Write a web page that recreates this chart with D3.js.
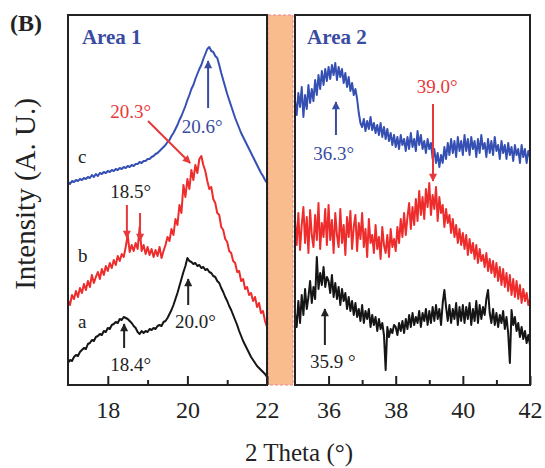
<!DOCTYPE html>
<html>
<head>
<meta charset="utf-8">
<script src="https://cdn.jsdelivr.net/npm/d3@7"></script>
<style>
  body { margin: 0; background: #fff; }
  svg { display: block; font-family: "Liberation Serif", "Times New Roman", serif; }
</style>
</head>
<body>
<svg width="545" height="468"></svg>
<script>
// sampling of the 2 theta scans (degrees)
var area1Start = 17
var area2Start = 35
var step = 0.05

// Area 1, 17.00 .. 22.00, one row per degree
var area1A = [
  22, 25, 24, 28, 30, 29, 33, 35, 37, 36, 41, 42, 45, 44, 48, 49, 51, 50, 54, 53,
  57, 56, 60, 61, 63, 62, 66, 65, 68, 67, 66, 64, 62, 59, 57, 53, 51, 54, 52, 54,
  53, 56, 55, 57, 56, 59, 60, 59, 63, 64, 67, 71, 75, 80, 86, 92, 99, 106, 113, 119,
  127, 124, 123, 121, 122, 119, 120, 117, 118, 115, 116, 113, 112, 109, 108, 104, 102, 97, 93, 88,
  84, 79, 75, 70, 65, 60, 54, 49, 44, 40, 36, 32, 28, 25, 22, 19, 17, 15, 13, 11,
  8
]
var area1B = [
  85, 80, 90, 86, 94, 88, 97, 92, 101, 95, 104, 98, 110, 102, 108, 113, 106, 116, 110, 119,
  114, 122, 117, 125, 120, 129, 124, 131, 128, 138, 150, 133, 140, 134, 142, 136, 158, 134, 140, 131,
  138, 130, 136, 128, 135, 129, 138, 127, 134, 140, 148, 144, 156, 150, 166, 160, 180, 172, 200, 188,
  206, 196, 215, 205, 220, 212, 226, 229, 220, 214, 204, 196, 198, 186, 182, 172, 170, 158, 155, 146,
  143, 134, 132, 124, 122, 113, 114, 104, 106, 96, 98, 90, 92, 84, 88, 78, 82, 72, 74, 64,
  58
]
var area1C = [
  203, 201, 204, 203, 205, 204, 206, 205, 207, 206, 208, 207, 210, 208, 211, 209, 212, 211, 213, 212,
  214, 213, 215, 214, 216, 215, 217, 216, 218, 217, 219, 218, 220, 219, 221, 221, 223, 222, 224, 224,
  226, 226, 228, 229, 231, 232, 234, 236, 238, 240, 243, 245, 249, 252, 256, 260, 265, 269, 274, 279,
  285, 290, 296, 300, 306, 311, 316, 320, 326, 331, 336, 338, 334, 333, 329, 327, 320, 312, 305, 298,
  291, 285, 279, 273, 267, 262, 257, 252, 248, 244, 240, 236, 232, 228, 224, 220, 216, 212, 209, 205,
  202
]

// Area 2, 35.00 .. 42.00
var area2A = [
  72, 58, 84, 62, 90, 70, 96, 76, 88, 104, 82, 98, 86, 128, 96, 112, 100, 118, 98, 108,
  104, 92, 110, 88, 102, 86, 98, 80, 96, 84, 92, 76, 88, 74, 84, 70, 82, 68, 76, 64,
  80, 62, 74, 66, 76, 58, 70, 60, 68, 54, 66, 56, 62, 50, 15, 58, 48, 56, 52, 60,
  58, 50, 62, 54, 64, 52, 66, 56, 70, 58, 72, 60, 68, 62, 74, 58, 72, 64, 76, 60,
  74, 62, 78, 64, 80, 66, 76, 60, 82, 95, 78, 64, 80, 62, 76, 66, 82, 60, 78, 64,
  80, 62, 78, 66, 82, 60, 76, 64, 84, 62, 80, 66, 78, 70, 86, 95, 72, 62, 76, 60,
  72, 58, 70, 62, 74, 56, 68, 52, 22, 75, 60, 68, 54, 62, 48, 58, 46, 54, 42, 50,
  40
]
var area2B = [
  165, 140, 172, 135, 160, 178, 142, 168, 132, 175, 150, 138, 170, 145, 182, 136, 162, 148, 176, 140,
  180, 145, 165, 132, 172, 150, 138, 176, 142, 160, 130, 168, 148, 174, 136, 158, 170, 134, 162, 146,
  172, 138, 156, 128, 166, 142, 150, 132, 160, 136, 148, 126, 158, 140, 132, 150, 128, 156, 138, 146,
  134, 158, 142, 166, 148, 172, 150, 168, 182, 156, 178, 160, 186, 164, 194, 170, 188, 166, 196, 178,
  202, 170, 190, 176, 198, 164, 188, 172, 180, 158, 176, 162, 170, 152, 166, 148, 160, 142, 156, 140,
  152, 136, 150, 130, 146, 132, 142, 126, 140, 122, 136, 124, 130, 118, 132, 114, 126, 112, 124, 108,
  122, 104, 118, 100, 116, 98, 112, 94, 110, 90, 106, 88, 104, 86, 100, 82, 96, 84, 92, 80,
  86
]
var area2C = [
  285, 270, 292, 278, 298, 268, 290, 276, 300, 282, 296, 284, 305, 290, 310, 296, 314, 300, 316, 304,
  318, 306, 320, 310, 322, 305, 318, 308, 316, 302, 312, 298, 308, 294, 302, 290, 296, 286, 272, 262,
  258, 266, 254, 264, 256, 268, 255, 262, 252, 260, 250, 262, 248, 258, 246, 256, 244, 252, 240, 250,
  238, 248, 236, 250, 240, 246, 234, 248, 236, 252, 238, 246, 234, 254, 240, 250, 236, 244, 232, 246,
  236, 242, 226, 236, 222, 232, 218, 230, 222, 238, 226, 242, 230, 246, 232, 244, 228, 248, 234, 244,
  230, 250, 234, 246, 230, 248, 236, 244, 228, 246, 232, 250, 236, 242, 228, 246, 232, 244, 230, 248,
  234, 240, 226, 244, 232, 240, 226, 242, 230, 238, 224, 240, 230, 236, 222, 240, 228, 236, 222, 234,
  228
]

var area1Ticks = [18, 20, 22]
var area1Minor = [19, 21]
var area2Ticks = [36, 38, 40, 42]
var area2Minor = [37, 39, 41]

var seriesColors = ['#151515', '#ee2c2c', '#3550b2']
var blue = '#3a4ca2'
var red = '#e8383a'
var ink = '#222'

var svg = d3.select('svg')
var y = d3.scaleLinear().domain([0, 370]).range([385, 15])

var panels = [
  {id: 'p1', title: 'Area 1', start: area1Start, series: [area1A, area1B, area1C],
   x: d3.scaleLinear().domain([17, 22]).range([68, 267]), ticks: area1Ticks, minor: area1Minor},
  {id: 'p2', title: 'Area 2', start: area2Start, series: [area2A, area2B, area2C],
   x: d3.scaleLinear().domain([35, 42]).range([295, 530]), ticks: area2Ticks, minor: area2Minor}
]

// orange break between the two areas
var gapL = panels[0].x.range()[1] + 1
var gapR = panels[1].x.range()[0] - 2
svg.append('rect')
  .attr('x', gapL).attr('y', y.range()[1])
  .attr('width', gapR - gapL).attr('height', y.range()[0] - y.range()[1])
  .attr('fill', '#f9bc8d')
  .attr('stroke', '#e98494').attr('stroke-width', 1).attr('stroke-dasharray', '3,2')

var defs = svg.append('defs')
;[['black', ink], ['red', red], ['blue', blue]].forEach(function(m) {
  defs.append('marker')
    .attr('id', 'head-' + m[0])
    .attr('viewBox', '0 0 10 10')
    .attr('refX', 9).attr('refY', 5)
    .attr('markerWidth', 9).attr('markerHeight', 8)
    .attr('markerUnits', 'userSpaceOnUse')
    .attr('orient', 'auto')
    .append('path').attr('d', 'M0,0L10,5L0,10z').attr('fill', m[1])
})

panels.forEach(function(p) {
  var x0 = p.x.range()[0], x1 = p.x.range()[1]
  defs.append('clipPath').attr('id', 'clip-' + p.id)
    .append('rect').attr('x', x0).attr('y', y.range()[1])
    .attr('width', x1 - x0).attr('height', y.range()[0] - y.range()[1])

  var line = d3.line()
    .x(function(d, i) { return p.x(p.start + i * step) })
    .y(function(d) { return y(d) })

  svg.append('g').attr('clip-path', 'url(#clip-' + p.id + ')')
    .selectAll('path').data(p.series).enter().append('path')
    .attr('d', line)
    .attr('fill', 'none')
    .attr('stroke', function(d, i) { return seriesColors[i] })
    .attr('stroke-width', 2)
    .attr('stroke-linejoin', 'round')

  var major = svg.append('g')
    .attr('transform', 'translate(0,' + y.range()[0] + ')')
    .call(d3.axisBottom(p.x).tickValues(p.ticks).tickSize(-9).tickPadding(16).tickFormat(d3.format('d')))
  major.select('.domain').remove()
  major.attr('font-size', 24).attr('font-family', '"Liberation Serif", serif')
  major.selectAll('line').attr('stroke', ink).attr('stroke-width', 2)
  major.selectAll('text').attr('fill', ink)

  var minor = svg.append('g')
    .attr('transform', 'translate(0,' + y.range()[0] + ')')
    .call(d3.axisBottom(p.x).tickValues(p.minor).tickSize(-5).tickFormat(''))
  minor.select('.domain').remove()
  minor.selectAll('line').attr('stroke', ink).attr('stroke-width', 2)

  svg.append('rect')
    .attr('x', x0).attr('y', y.range()[1])
    .attr('width', x1 - x0).attr('height', y.range()[0] - y.range()[1])
    .attr('fill', 'none').attr('stroke', ink).attr('stroke-width', 2)
})

var xL = panels[0].x, xR = panels[1].x

// peak labels: [scale, text, colour, angle, intensity]
var labels = [
  [xL, 'Area 1', blue, 17.35, 341, 'bold', 21],
  [xR, 'Area 2', blue, 35.36, 341, 'bold', 21],
  [xL, 'c', ink, 17.25, 222],
  [xL, 'b', ink, 17.25, 123],
  [xL, 'a', ink, 17.25, 57],
  [xL, '20.6°', blue, 19.86, 252],
  [xL, '20.3°', red, 18.06, 267],
  [xL, '18.5°', ink, 18.06, 187],
  [xL, '18.4°', ink, 18.06, 14],
  [xL, '20.0°', ink, 19.69, 57],
  [xR, '36.3°', blue, 35.54, 225],
  [xR, '39.0°', red, 38.63, 292],
  [xR, '35.9 °', ink, 35.45, 17]
]
svg.append('g').selectAll('text').data(labels).enter().append('text')
  .attr('x', function(d) { return d[0](d[3]) })
  .attr('y', function(d) { return y(d[4]) })
  .attr('fill', function(d) { return d[2] })
  .attr('font-weight', function(d) { return d[5] || 'normal' })
  .attr('font-size', function(d) { return d[6] || 19 })
  .text(function(d) { return d[1] })

// arrows: [scale, marker, angle from, intensity from, angle to, intensity to]
var arrows = [
  [xL, 'blue', 20.52, 277, 20.52, 324],
  [xL, 'red', 19.01, 264, 20.07, 222],
  [xL, 'red', 18.48, 180, 18.48, 147],
  [xL, 'red', 18.81, 172, 18.81, 144],
  [xL, 'black', 18.41, 37, 18.41, 61],
  [xL, 'black', 20.02, 80, 20.02, 106],
  [xR, 'blue', 36.22, 250, 36.22, 283],
  [xR, 'red', 39.11, 281, 39.11, 204],
  [xR, 'black', 35.89, 40, 35.89, 76]
]
var arrowColor = {black: ink, red: red, blue: blue}
svg.append('g').selectAll('line').data(arrows).enter().append('line')
  .attr('x1', function(d) { return d[0](d[2]) })
  .attr('y1', function(d) { return y(d[3]) })
  .attr('x2', function(d) { return d[0](d[4]) })
  .attr('y2', function(d) { return y(d[5]) })
  .attr('stroke', function(d) { return arrowColor[d[1]] })
  .attr('stroke-width', 2)
  .attr('marker-end', function(d) { return 'url(#head-' + d[1] + ')' })

svg.append('text')
  .attr('x', 10).attr('y', 31)
  .attr('font-size', 24).attr('font-weight', 'bold').attr('fill', ink)
  .text('(B)')

svg.append('text')
  .attr('transform', 'translate(35,194) rotate(-90)')
  .attr('text-anchor', 'middle')
  .attr('font-size', 29).attr('fill', ink)
  .text('Intensity (A. U.)')

svg.append('text')
  .attr('x', (xL.range()[0] + xR.range()[1]) / 2)
  .attr('y', 461)
  .attr('text-anchor', 'middle')
  .attr('font-size', 25).attr('fill', ink)
  .text('2 Theta (°)')
</script>
</body>
</html>
